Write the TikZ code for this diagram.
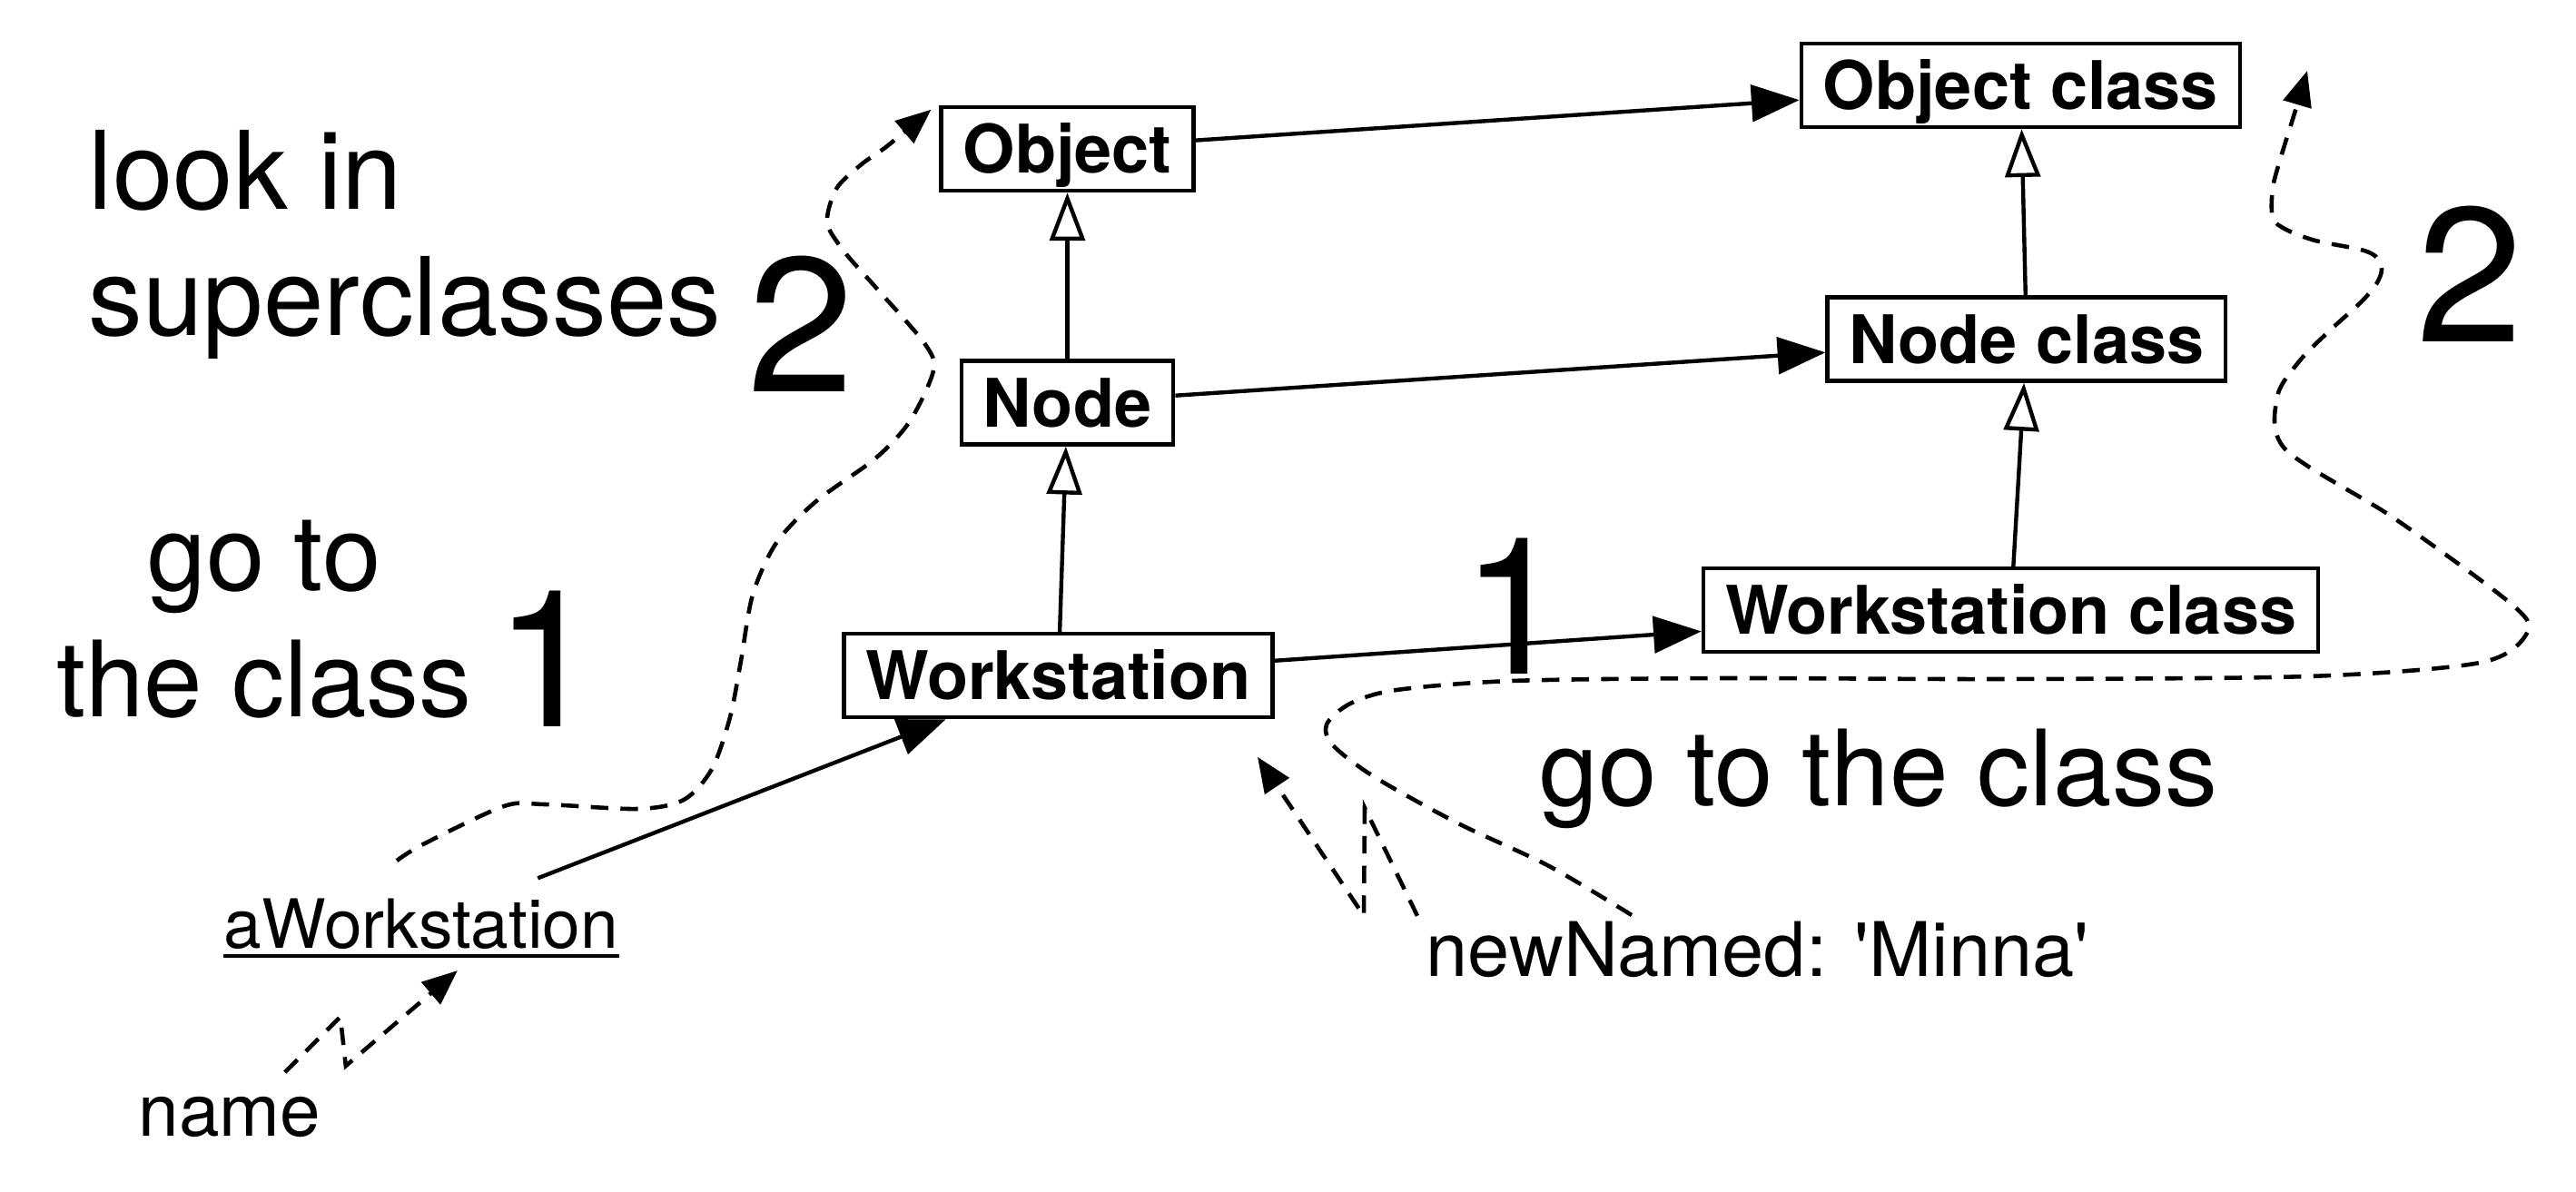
\documentclass[tikz,border=0pt]{standalone}
\usepackage{fontspec}
\setmainfont{TeX Gyre Heros}
\usepackage{tikz}
\usetikzlibrary{arrows.meta,positioning}
\newcommand{\clsfont}{\fontsize{21}{25}\selectfont\bfseries}
\newcommand{\bigtxt}{\fontsize{33}{39.5}\selectfont}
\newcommand{\numfont}{\fontsize{60}{60}\selectfont}
\newcommand{\msgfont}{\fontsize{22}{26}\selectfont}

\begin{document}
\begin{tikzpicture}[
    cls/.style={rectangle,draw,line width=1.3pt,font=\clsfont,
                inner xsep=0.24cm,inner ysep=0pt,minimum height=0.92cm,
                text height=15.1pt,text depth=0pt},
    arr/.style={-{Triangle[length=15pt,width=11.5pt]},line width=1.25pt},
    inh/.style={-{Triangle[open,length=15pt,width=11pt,fill=white]},line width=1.25pt},
    msg/.style={-{Triangle[length=11pt,width=9pt]},line width=1.3pt,
                dash pattern=on 5.5pt off 3.8pt},
    note/.style={font=\bigtxt,inner sep=0pt},
    num/.style={font=\numfont,inner sep=0pt},
    lbl/.style={font=\msgfont,inner sep=0pt},
  ]
    \useasboundingbox (0,0) rectangle (28.37,13.12);
    % classes and metaclasses
    \node[cls] (obj) at (11.755,11.48) {Object};
    \node[cls,below=1.83cm of obj] (nod) {Node};
    \node[cls,below=2.04cm of nod,xshift=-0.1cm] (wst) {Workstation};
    \node[cls,right=6.65cm of obj,yshift=0.7cm] (objcl) {Object class};
    \node[cls,right=7.16cm of nod,yshift=0.7cm] (nodcl) {Node class};
    \node[cls,right=4.7cm of wst,yshift=0.72cm] (wstcl) {Workstation class};
    \draw[arr] (obj) -- (objcl);
    \draw[arr] (nod) -- (nodcl);
    \draw[arr] (wst) -- (wstcl);
    \draw[inh] (nod) -- (obj);
    \draw[inh] (wst) -- (nod);
    \draw[inh] (nodcl) -- (objcl);
    \draw[inh] (wstcl) -- (nodcl);
    % instance and messages
    \node[lbl,anchor=base,font=\fontsize{21.3}{26}\selectfont] (awst) at (4.64,2.68) {aWorkstation};
    \draw[line width=1.2pt] ([yshift=-0.09cm]awst.base west) -- ([yshift=-0.09cm]awst.base east);
    \draw[arr,shorten <=0.59cm] (awst) -- (wst);
    \node[lbl,anchor=base west,font=\fontsize{22.8}{26}\selectfont] (nm) at (1.52,0.61) {name};
    \node[lbl,anchor=base west,font=\fontsize{23.6}{26}\selectfont] (nn) at (15.70,2.37)
      {newNamed: \textquotesingle Minna\textquotesingle};
    \draw[msg] ([shift={(-0.4,0.26)}]nm.north east) -- ++(0.61,0.61) -- ++(0.06,-0.54) -- ++(1.23,1.05);
    \draw[msg] ([shift={(-0.09,0.05)}]nn.north west) -- ++(-0.58,1.19) -- ++(-0.01,-1.19) -- ++(-1.17,1.75);
    % notes
    \node[note,anchor=north west,align=left,font=\fontsize{34}{39.5}\selectfont] (look)
      at (0.97,11.69) {look in\\superclasses};
    \node[note,anchor=north,align=center] (goto) at (2.91,7.40) {go to\\the class};
    \node[note,anchor=base] (gocls) at (20.69,4.25) {go to the class};
    \node[num,anchor=base] (one) at (6.03,5.12) {1};
    \node[num,anchor=base] (two) at (8.82,8.81) {2};
    \node[num,anchor=base] (onew) at (16.68,5.70) {1};
    \node[num,anchor=base] (twow) at (27.20,9.36) {2};
    % lookup paths
    \draw[msg] plot[smooth] coordinates {(4.37,3.64) (4.66,3.82) (5.55,4.24) (6.00,4.26)
      (7.02,4.21) (7.53,4.31) (7.84,4.65) (8.04,5.22) (8.16,5.84) (8.29,6.57) (8.55,7.14)
      (8.99,7.60) (9.64,8.07) (10.02,8.48) (10.28,9.04) (10.18,9.34) (9.64,9.96) (9.32,10.32)
      (9.13,10.60) (9.12,10.79) (9.23,11.07) (9.50,11.32) (9.77,11.51)
      ([shift={(-0.09,-0.05)}]obj.north west)};
    \draw[msg] plot[smooth] coordinates {(17.97,3.04) (17.06,3.58) (16.06,4.05) (15.14,4.56)
      (14.68,4.91) (14.61,5.14) (14.87,5.37) (15.38,5.52) (16.65,5.62) (19.00,5.65)
      (22.00,5.64) (25.42,5.67) (27.31,5.82) (27.82,6.13) (27.69,6.44) (26.37,7.41)
      (25.17,8.17) (25.08,8.75) (25.33,9.15) (25.67,9.49) (26.00,9.79) (26.17,9.99)
      (26.23,10.15) (26.17,10.29) (26.00,10.37) (25.50,10.47) (25.18,10.59) (25.03,10.72)
      (25.03,11.05) (25.12,11.39) (25.26,11.84) (25.41,12.34)};
\end{tikzpicture}
\end{document}
